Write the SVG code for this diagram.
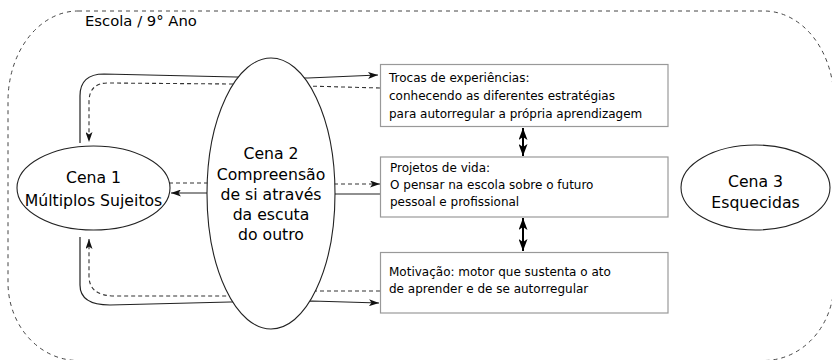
<svg xmlns="http://www.w3.org/2000/svg" width="832" height="360" viewBox="0 0 832 360">
<style>
  text { font-family: "DejaVu Sans", "Liberation Sans", sans-serif; fill: #000; }
  .big { font-size: 15.7px; text-anchor: middle; }
  .small { font-size: 12px; }
  .title { font-size: 14.8px; }
  .ell { fill: #fff; stroke: #222; stroke-width: 1.1; }
  .box { fill: #fff; stroke: #999; stroke-width: 1.2; }
  .solid { fill: none; stroke: #222; stroke-width: 1.2; }
  .dash { fill: none; stroke: #333; stroke-width: 1.1; stroke-dasharray: 4 3; }
  .dbl { fill: none; stroke: #000; stroke-width: 2; }
  .frame { fill: none; stroke: #444; stroke-width: 1; stroke-dasharray: 4 4; }
</style>
<defs>
  <marker id="arr" viewBox="0 0 10 7" refX="10" refY="3.5" markerWidth="10" markerHeight="7" markerUnits="userSpaceOnUse" orient="auto">
    <path d="M0,0 L10,3.5 L0,7 L2.5,3.5 z" fill="#111"/>
  </marker>
  <marker id="dbl" viewBox="0 0 12 9" refX="12" refY="4.5" markerWidth="12" markerHeight="9" markerUnits="userSpaceOnUse" orient="auto-start-reverse">
    <path d="M0,0 L12,4.5 L0,9 L3,4.5 z" fill="#000"/>
  </marker>
</defs>

<g id="frame">
  <path class="frame" d="M78,11 L764,11 A70,90 0 0 1 834,101 L834,282.5 A70,78 0 0 1 764,360.5 L78,360.5 A70,78 0 0 1 8,282.5 L8,101 A70,90 0 0 1 78,11 Z"/>
  <text class="title" x="85" y="25.5">Escola / 9° Ano</text>
</g>

<g id="connectors">
  <path class="solid" d="M80,143 L80,96 Q80,74 104,74 L236,77 L308,78 L378,75" marker-end="url(#arr)"/>
  <path class="dash" d="M380,88 L233,84 L108,83 Q89,83 89,102 L89,142" marker-end="url(#arr)"/>
  <path class="solid" d="M80,237 L80,285 Q80,305 110,305 L230,302 L312,301 L379,303" marker-end="url(#arr)"/>
  <path class="dash" d="M380,291 L315,291 L228,296 L115,296 Q89,296 89,276 L89,239" marker-end="url(#arr)"/>
  <path class="dash" d="M208,183 L169,183"/>
  <path class="solid" d="M208,193 L171,193" marker-end="url(#arr)"/>
  <path class="dash" d="M334,184 L380,184" marker-end="url(#arr)"/>
  <path class="solid" d="M334,194 L380,194"/>
  <path class="dbl" d="M523,128 L523,156" marker-start="url(#dbl)" marker-end="url(#dbl)"/>
  <path class="dbl" d="M523,218 L523,251" marker-start="url(#dbl)" marker-end="url(#dbl)"/>
</g>

<g id="cena1">
  <ellipse class="ell" cx="93.5" cy="188" rx="76.5" ry="42"/>
  <text class="big" x="93.5" y="183">Cena 1</text>
  <text class="big" x="93.5" y="206">Múltiplos Sujeitos</text>
</g>

<g id="cena2">
  <ellipse class="ell" cx="271" cy="193.5" rx="64" ry="135.5"/>
  <text class="big" x="271" y="159">Cena 2</text>
  <text class="big" x="271" y="180">Compreensão</text>
  <text class="big" x="271" y="200">de si através</text>
  <text class="big" x="271" y="220">da escuta</text>
  <text class="big" x="271" y="240">do outro</text>
</g>

<g id="cena3">
  <ellipse class="ell" cx="755.5" cy="187.5" rx="74.5" ry="42.5"/>
  <text class="big" x="755.5" y="187">Cena 3</text>
  <text class="big" x="755.5" y="208">Esquecidas</text>
</g>

<g id="trocas">
  <rect class="box" x="380.5" y="64.5" width="287.5" height="62"/>
  <text class="small" x="389" y="82">Trocas de experiências:</text>
  <text class="small" x="389" y="100">conhecendo as diferentes estratégias</text>
  <text class="small" x="389" y="118">para autorregular a própria aprendizagem</text>
</g>

<g id="projetos">
  <rect class="box" x="380.5" y="157" width="287.5" height="60"/>
  <text class="small" x="390" y="172">Projetos de vida:</text>
  <text class="small" x="390" y="189">O pensar na escola sobre o futuro</text>
  <text class="small" x="390" y="206">pessoal e profissional</text>
</g>

<g id="motivacao">
  <rect class="box" x="380.5" y="252.5" width="287.5" height="60.5"/>
  <text class="small" x="389" y="276">Motivação: motor que sustenta o ato</text>
  <text class="small" x="389" y="293">de aprender e de se autorregular</text>
</g>
</svg>
